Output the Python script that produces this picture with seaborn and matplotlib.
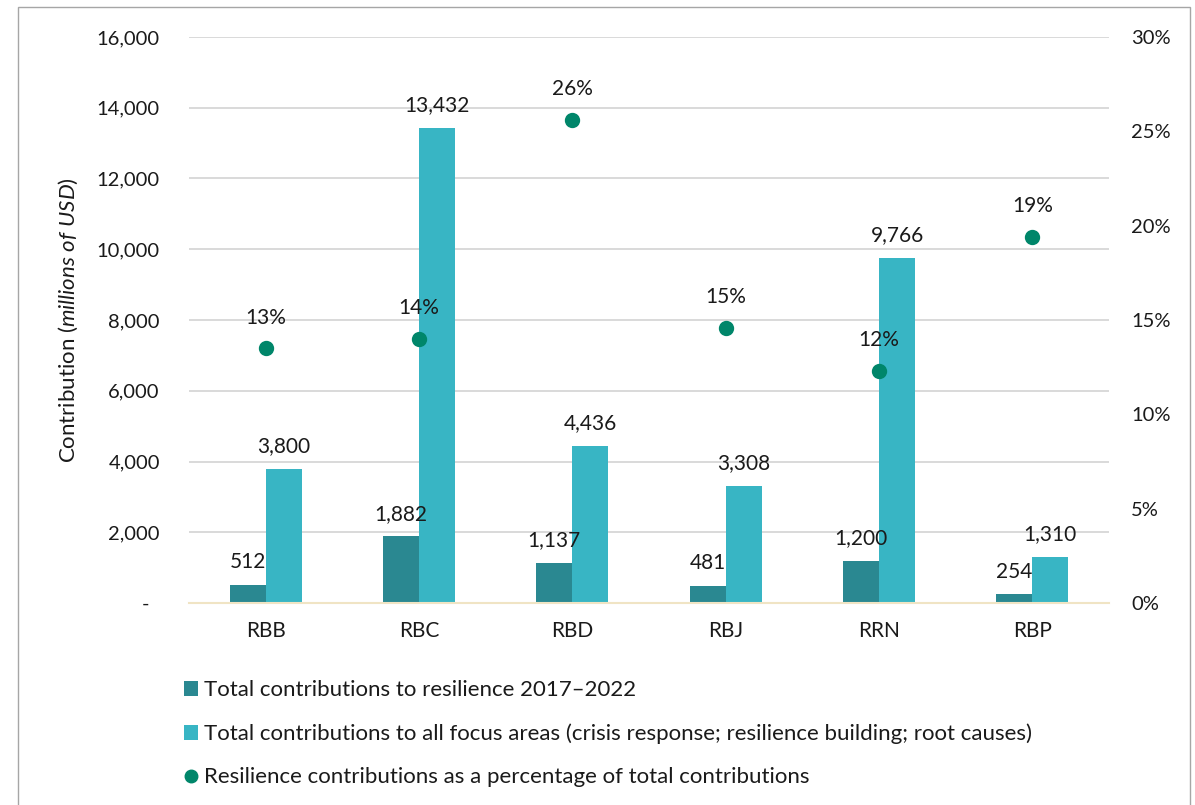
import numpy as np
import pandas as pd
import matplotlib.pyplot as plt
import seaborn as sns
from matplotlib.patches import Patch, Rectangle
from matplotlib.lines import Line2D
from matplotlib.ticker import FuncFormatter, MultipleLocator

# data
regions = ['RBB', 'RBC', 'RBD', 'RBJ', 'RRN', 'RBP']
resilience = [512, 1882, 1137, 481, 1200, 254]
all_focus = [3800, 13432, 4436, 3308, 9766, 1310]
share = [0.135, 0.140, 0.256, 0.146, 0.123, 0.194]
share_labels = ['13%', '14%', '26%', '15%', '12%', '19%']

series_names = [
    'Total contributions to resilience 2017–2022',
    'Total contributions to all focus areas (crisis response; resilience building; root causes)',
]
point_name = 'Resilience contributions as a percentage of total contributions'

dark = '#2A8891'
light = '#38B5C4'
green = '#00866A'
text_col = '#1a1a1a'

sns.set_theme(style='white')
plt.rcParams['font.family'] = ['Lato', 'DejaVu Sans']
plt.rcParams['mathtext.fontset'] = 'custom'
plt.rcParams['mathtext.rm'] = 'Lato'
plt.rcParams['mathtext.it'] = 'Lato:italic'

# long-form table for seaborn
df = pd.DataFrame({
    'Region': regions * 2,
    'Value': resilience + all_focus,
    'Series': [series_names[0]] * len(regions) + [series_names[1]] * len(regions),
})

W, H = 1195, 805
fig = plt.figure(figsize=(W / 100, H / 100), dpi=100)
ax = fig.add_axes([189 / W, 1 - 603 / H, 920 / W, 566 / H])

sns.barplot(data=df, x='Region', y='Value', hue='Series', palette=[dark, light],
            width=0.47, saturation=1, errorbar=None, linewidth=0, legend=False, ax=ax)

ax.set_ylim(0, 16000)
ax.yaxis.set_major_locator(MultipleLocator(2000))
ax.yaxis.set_major_formatter(FuncFormatter(lambda v, p: '-  ' if v == 0 else f'{v:,.0f}'))
ax.grid(axis='y', color='#D9D9D9', linewidth=1.4)
ax.set_axisbelow(True)
for s in ['top', 'left', 'right']:
    ax.spines[s].set_visible(False)
ax.spines['bottom'].set_color('#F0E4C4')
ax.spines['bottom'].set_linewidth(1.5)
ax.tick_params(axis='y', length=0, pad=21, labelsize=14.5, labelcolor=text_col)
ax.tick_params(axis='x', length=0, pad=13, labelsize=15, labelcolor=text_col)
ax.set_xlabel('')
ax.set_ylabel(r'Contribution ($\it{millions\ of\ USD}$)', fontsize=16, color=text_col)
ax.yaxis.set_label_coords(-0.119, 0.5)

# value labels on bars
for cont in ax.containers:
    ax.bar_label(cont, fmt='{:,.0f}', padding=9, fontsize=15, color=text_col)

# share points on secondary axis
ax2 = ax.twinx()
sns.pointplot(x=regions, y=share, color=green, linestyle='none', markers='o',
              markersize=9, errorbar=None, ax=ax2)
ax2.set_ylim(0, 0.30)
ax2.yaxis.set_major_locator(MultipleLocator(0.05))
ax2.yaxis.set_major_formatter(FuncFormatter(lambda v, p: f'{v:.0%}'))
ax2.grid(False)
for s in ax2.spines.values():
    s.set_visible(False)
ax2.tick_params(axis='y', length=0, pad=16, labelsize=14.5, labelcolor=text_col)
ax.set_xlim(-0.5, len(regions) - 0.5)

for i, (v, lab) in enumerate(zip(share, share_labels)):
    ax2.annotate(lab, (i, v), xytext=(0, 22), textcoords='offset points',
                 ha='center', va='center', fontsize=15, color=text_col)

# legend below the plot
handles = [
    Patch(facecolor=dark, edgecolor='none'),
    Patch(facecolor=light, edgecolor='none'),
    Line2D([], [], marker='o', linestyle='none', color=green, markersize=9),
]
fig.legend(handles, series_names + [point_name], loc='upper left',
           bbox_to_anchor=(184 / W, 1 - 680 / H), frameon=False, fontsize=16,
           handlelength=0.65, handleheight=0.65, handletextpad=0.25,
           labelspacing=1.05, borderpad=0, borderaxespad=0, labelcolor=text_col)

# outer frame around the chart
fig.add_artist(Rectangle((18 / W, -0.05), 1172 / W, 1.05 - 7 / H, transform=fig.transFigure,
                         fill=False, edgecolor='#A6A6A6', linewidth=1))

fig.savefig('out.png', dpi=100)
